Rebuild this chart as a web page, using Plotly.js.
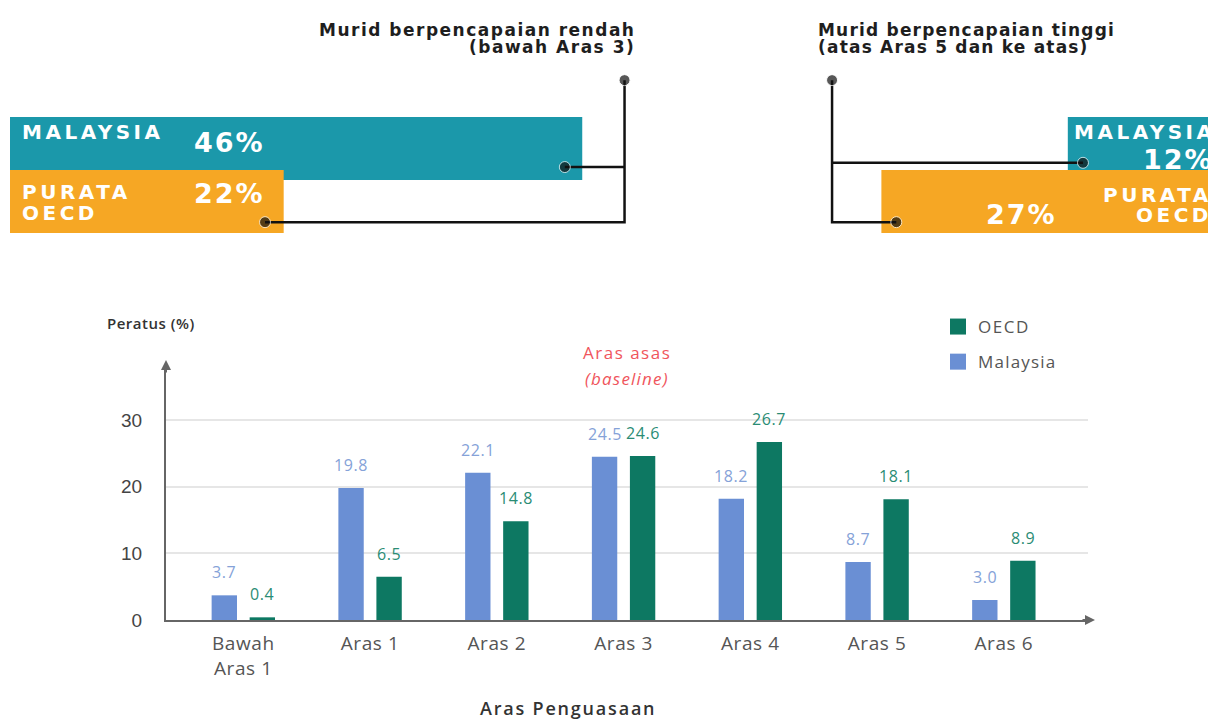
<!DOCTYPE html>
<html><head><meta charset="utf-8">
<script src="https://cdn.plot.ly/plotly-3.0.1.min.js"></script>
<style>html,body{margin:0;padding:0;background:#fff}#chart{width:1208px;height:722px}</style>
</head><body><div id="chart"></div>
<script>
// ---- data ----
const levels = ['Bawah Aras 1','Aras 1','Aras 2','Aras 3','Aras 4','Aras 5','Aras 6'];
const levelLabels = ['Bawah<br>Aras 1','Aras 1','Aras 2','Aras 3','Aras 4','Aras 5','Aras 6'];
const malaysia = [3.7,19.8,22.1,24.5,18.2,8.7,3.0];
const oecd = [0.4,6.5,14.8,24.6,26.7,18.1,8.9];
const yTicks = [0,10,20,30];
const seriesNames = ['OECD','Malaysia'];
const lowShare = [46,22];   // Malaysia, OECD: below Aras 3
const highShare = [12,27];  // Malaysia, OECD: Aras 5 and above
const groupNames = ['MALAYSIA','PURATA OECD'];
const lowTitle = ['Murid berpencapaian rendah','(bawah Aras 3)'];
const highTitle = ['Murid berpencapaian tinggi','(atas Aras 5 dan ke atas)'];
const baselineText = ['Aras asas','(baseline)'];

// ---- styles ----
const W = 1208, H = 722;
const px = v => v / W, py = v => 1 - v / H;
const cMY = '#6a8fd4', cOE = '#0d7862';
const cTeal = '#1b98aa', cOrange = '#f6a724';
const lblMY = '#85a2d8', lblOE = '#2a8c74';
const fTick = 'Open Sans, Noto Sans, sans-serif';
const fHeavy = 'DejaVu Sans, sans-serif';
const sp = (t,ls) => '<span style="letter-spacing:'+ls+'px">'+t+'</span>';

const traces = [];
traces.push({type:'bar', x:levels, y:malaysia, name:'Malaysia', marker:{color:cMY}, showlegend:false, hoverinfo:'x+y'});
traces.push({type:'bar', x:levels, y:oecd, name:'OECD', marker:{color:cOE}, showlegend:false, hoverinfo:'x+y'});
traces.push({type:'scatter', mode:'markers', x:[null], y:[null], name:sp(seriesNames[0],1.5), legendgroup:'a',
  marker:{symbol:'square', size:18, color:cOE}});
traces.push({type:'scatter', mode:'markers', x:[null], y:[null], name:sp(seriesNames[1],1.2), legendgroup:'b',
  marker:{symbol:'square', size:18, color:cMY}});

traces.push({type:'bar', orientation:'h', x:lowShare, y:[1,0], width:1.19, xaxis:'x2', yaxis:'y2',
  marker:{color:[cTeal,cOrange]}, showlegend:false, hoverinfo:'x'});
traces.push({type:'bar', orientation:'h', x:highShare, y:[1,0], width:1.19, xaxis:'x3', yaxis:'y3',
  marker:{color:[cTeal,cOrange]}, showlegend:false, hoverinfo:'x'});

const lineStyle = {color:'#111', width:2.5};
const dotStyle = s => ({color:'#111', size:s});
traces.push({type:'scatter', mode:'lines+markers', xaxis:'x2', yaxis:'y2', showlegend:false, hoverinfo:'skip',
  x:[lowShare[1]-1.5, lowShare[0]+3.4, lowShare[0]+3.4], y:[-0.39,-0.39,2.29],
  line:lineStyle, marker:dotStyle([11,0,11])});
traces.push({type:'scatter', mode:'lines+markers', xaxis:'x2', yaxis:'y2', showlegend:false, hoverinfo:'skip',
  x:[lowShare[0]-1.4, lowShare[0]+3.4], y:[0.65,0.65], line:lineStyle, marker:dotStyle([11,0])});
traces.push({type:'scatter', mode:'lines+markers', xaxis:'x3', yaxis:'y3', showlegend:false, hoverinfo:'skip',
  x:[highShare[1]-1.2, highShare[1]+3.97, highShare[1]+3.97], y:[-0.39,-0.39,2.29],
  line:lineStyle, marker:dotStyle([11,0,11])});
traces.push({type:'scatter', mode:'lines+markers', xaxis:'x3', yaxis:'y3', showlegend:false, hoverinfo:'skip',
  x:[highShare[0]-1.22, highShare[1]+3.97], y:[0.73,0.73], line:lineStyle, marker:dotStyle([11,0])});

const ann = [];
levels.forEach((c,i)=>{
  ann.push({x:c, y:malaysia[i], xref:'x', yref:'y', text:sp(malaysia[i].toFixed(1),0.6), showarrow:false,
    xshift:-19, yshift:10, yanchor:'bottom', font:{family:fTick, size:16, color:lblMY}});
  ann.push({x:c, y:oecd[i], xref:'x', yref:'y', text:sp(oecd[i].toFixed(1),0.6), showarrow:false,
    xshift:19, yshift:10, yanchor:'bottom', font:{family:fTick, size:16, color:lblOE}});
});
ann.push({x:px(105), y:py(323), xref:'paper', yref:'paper', xanchor:'left', yanchor:'middle', showarrow:false,
  text:sp('Peratus (%)',0.5), font:{family:fTick, size:15, color:'#333', weight:600}});
ann.push({x:px(568), y:py(708), xref:'paper', yref:'paper', xanchor:'center', yanchor:'middle', showarrow:false,
  text:sp('Aras Penguasaan',1.8), font:{family:fTick, size:18, color:'#333', weight:600}});
ann.push({x:px(627), y:py(352), xref:'paper', yref:'paper', yanchor:'middle', showarrow:false, text:sp(baselineText[0],1.5),
  font:{family:fTick, size:17, color:'#f0555c'}});
ann.push({x:px(627), y:py(378), xref:'paper', yref:'paper', yanchor:'middle', showarrow:false, text:'<i>'+sp(baselineText[1],1.2)+'</i>',
  font:{family:fTick, size:17, color:'#f0555c'}});
ann.push({x:px(166), y:py(360), xref:'paper', yref:'paper', ax:0, ay:14, text:'', showarrow:true,
  arrowhead:2, arrowsize:1, arrowwidth:2, arrowcolor:'#666'});
ann.push({x:px(1095), y:py(620), xref:'paper', yref:'paper', ax:-14, ay:0, text:'', showarrow:true,
  arrowhead:2, arrowsize:1, arrowwidth:2, arrowcolor:'#666'});

function sText(x, y, anchor, text, ls, font){
  ann.push({x:px(x), y:py(y), xref:'paper', yref:'paper', xanchor:anchor, yanchor:'middle', showarrow:false,
    text:sp(text,ls), font:font});
}
const tFont = {family:fHeavy, size:17, color:'#1e1e1e', weight:'bold'};
sText(637, 30, 'right', lowTitle[0], 1.5, tFont);
sText(637, 47, 'right', lowTitle[1], 1.5, tFont);
sText(816, 30, 'left', highTitle[0], 1.2, tFont);
sText(816, 47, 'left', highTitle[1], 1.2, tFont);

const nFont = {family:fHeavy, size:20, color:'#ffffff', weight:'bold'};
const bFont = {family:fHeavy, size:27, color:'#ffffff', weight:'bold'};
const pName = groupNames[1].split(' ');
sText(20, 132, 'left', groupNames[0], 3.5, nFont);
sText(192, 142, 'left', lowShare[0]+'%', 2, bFont);
sText(20, 192, 'left', pName[0], 3.5, nFont);
sText(20, 213, 'left', pName[1], 3.5, nFont);
sText(192, 193, 'left', lowShare[1]+'%', 2, bFont);
sText(1218, 132, 'right', groupNames[0], 3.5, nFont);
sText(1216, 159, 'right', highShare[0]+'%', 2, bFont);
sText(1214, 195, 'right', pName[0], 3.5, nFont);
sText(1214, 215, 'right', pName[1], 3.5, nFont);
sText(984, 214, 'left', highShare[1]+'%', 2, bFont);

const layout = {
  width:W, height:H, margin:{l:0,r:0,t:0,b:0}, paper_bgcolor:'#fff', plot_bgcolor:'rgba(0,0,0,0)',
  barmode:'group', bargap:0.4, bargroupgap:0.333, showlegend:true,
  font:{family:fTick, color:'#444'},
  xaxis:{domain:[px(166), px(1088)], range:[-0.61, 6.664], type:'category',
    tickmode:'array', tickvals:levels, ticktext:levelLabels.map(t=>sp(t,0.6)),
    showline:true, linecolor:'#666', linewidth:2, showgrid:false, zeroline:false,
    ticks:'outside', ticklen:5, tickcolor:'rgba(0,0,0,0)',
    tickfont:{family:fTick, size:19, color:'#555'}, fixedrange:true},
  yaxis:{domain:[py(620), py(365)], range:[0, 38.25], tickmode:'array', tickvals:yTicks,
    showline:true, linecolor:'#666', linewidth:2, showgrid:true, gridcolor:'#e6e6e6', gridwidth:2, zeroline:false,
    ticks:'outside', ticklen:18, tickcolor:'rgba(0,0,0,0)',
    tickfont:{family:'Liberation Sans, Arial, sans-serif', size:19, color:'#444'}, fixedrange:true},
  xaxis2:{domain:[px(10), px(632)], range:[0,50], visible:false, fixedrange:true},
  yaxis2:{domain:[py(233.3), py(42.5)], range:[-0.6,3.0], visible:false, fixedrange:true},
  xaxis3:{domain:[px(820), 1], range:[31.94, 0.72], visible:false, fixedrange:true},
  yaxis3:{domain:[py(233.3), py(42.5)], range:[-0.6,3.0], visible:false, fixedrange:true},
  legend:{x:px(938), y:py(309), xanchor:'left', yanchor:'top', bgcolor:'rgba(0,0,0,0)',
    font:{family:fTick, size:17, color:'#555'}, tracegroupgap:10, itemsizing:'trace'},
  annotations:ann
};
Plotly.newPlot('chart', traces, layout, {displayModeBar:false, staticPlot:true});
</script></body></html>
